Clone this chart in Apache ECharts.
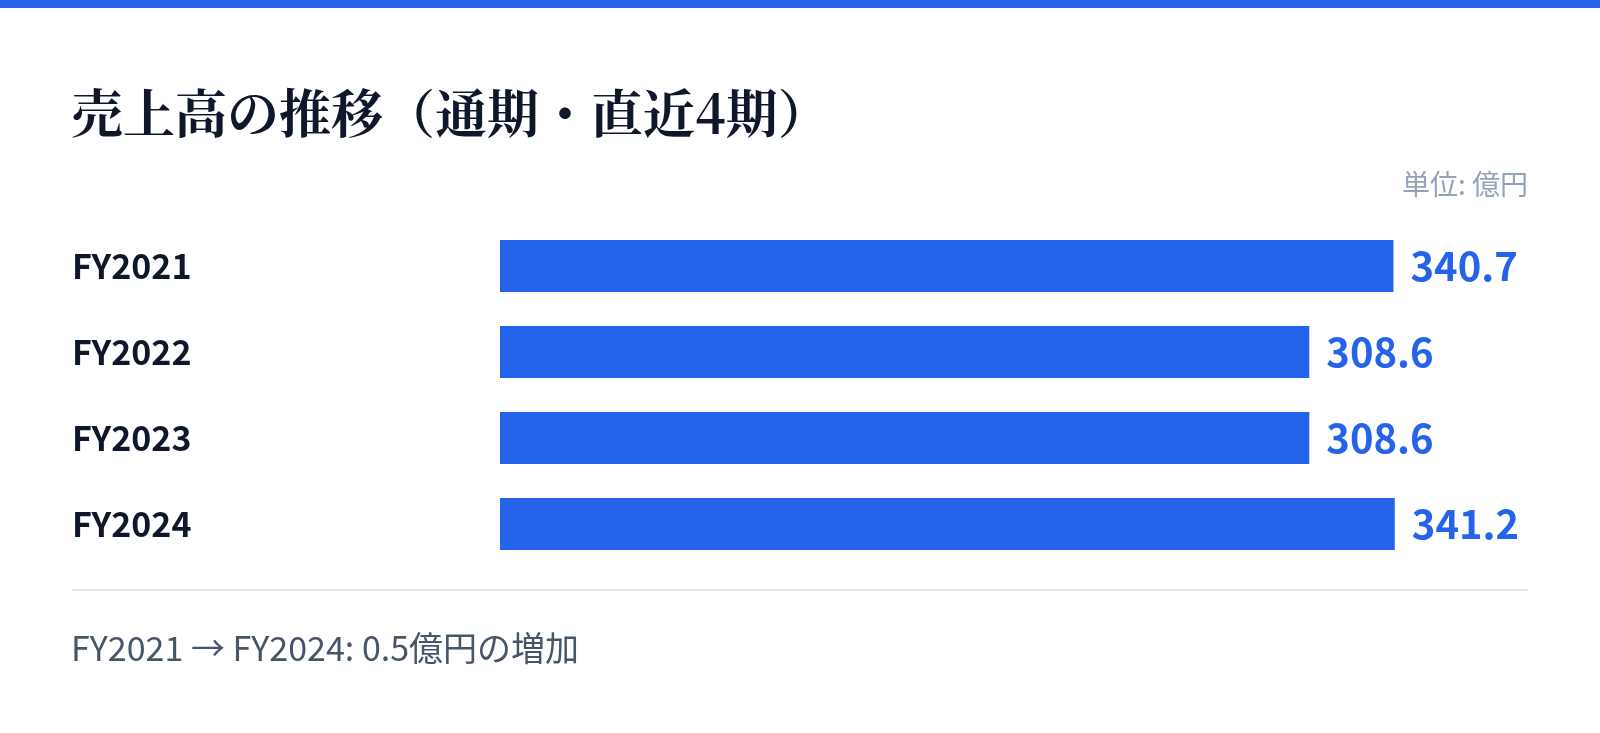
<!DOCTYPE html>
<html><head><meta charset="utf-8">
<script src="https://cdn.jsdelivr.net/npm/echarts@6/dist/echarts.min.js"></script>
<style>html,body{margin:0;padding:0;background:#fff}#c{width:1600px;height:733px}</style>
</head><body><div id="c"></div>
<script>
const categories = ['FY2021', 'FY2022', 'FY2023', 'FY2024'];
const values = [340.7, 308.6, 308.6, 341.2];
const titleText = '売上高の推移（通期・直近4期）';
const unitText = '単位: 億円';
const footerText = 'FY2021 → FY2024: 0.5億円の増加';

const BLUE = '#2563eb';
const sans = "'Noto Sans CJK JP', 'Noto Sans', sans-serif";
const serif = "'Noto Serif CJK JP', 'Noto Serif JP', 'DejaVu Serif', serif";

const chart = echarts.init(document.getElementById('c'), null, {renderer: 'canvas'});
chart.setOption({
  backgroundColor: '#ffffff',
  animation: false,
  grid: {left: 500, right: 72, top: 223, height: 344},
  xAxis: {
    type: 'value', min: 0, max: 392,
    show: false
  },
  yAxis: {
    type: 'category', data: categories, inverse: true,
    axisLine: {show: false}, axisTick: {show: false}, splitLine: {show: false},
    axisLabel: {
      align: 'left', margin: 428, padding: [7, 0, 0, 0],
      fontFamily: sans, fontWeight: 'bold', fontSize: 34, color: '#0f172a'
    }
  },
  series: [{
    type: 'bar', data: values, barWidth: 52,
    itemStyle: {color: BLUE},
    label: {
      show: true, position: 'right', distance: 17, padding: [4, 0, 0, 0],
      fontFamily: sans, fontWeight: 'bold', fontSize: 40, color: BLUE,
      formatter: p => p.value.toFixed(1)
    }
  }],
  graphic: [
    {type: 'rect', shape: {x: 0, y: 0, width: 1600, height: 8}, style: {fill: BLUE}},
    {type: 'text', left: 71, top: 87, style: {text: titleText, font: `bold 52px ${serif}`, fill: '#0f172a'}},
    {type: 'text', right: 72, top: 170, style: {text: unitText, font: `28px ${sans}`, fill: '#94a3b8'}},
    {type: 'line', shape: {x1: 72, y1: 590, x2: 1528, y2: 590}, style: {stroke: '#e2e8f0', lineWidth: 2}},
    {type: 'text', left: 71, top: 631, style: {text: footerText, font: `34px ${sans}`, fill: '#475569'}}
  ]
});
</script>
</body></html>
